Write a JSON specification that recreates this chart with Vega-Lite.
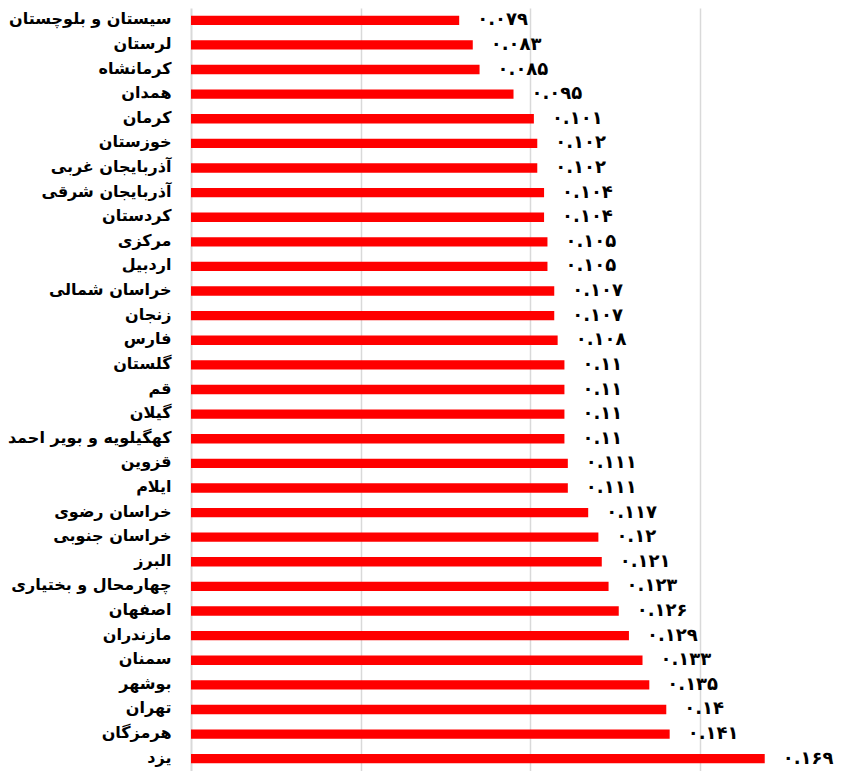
{
  "$schema": "https://vega.github.io/schema/vega-lite/v6.json",
  "autosize": {"type": "none"},
  "padding": {"left": 191, "top": 8, "right": 7, "bottom": 0},
  "width": 662,
  "height": 763,
  "background": "white",
  "config": {"view": {"stroke": null}, "font": "DejaVu Sans"},
  "data": {"values": [
    {"province": "سیستان و بلوچستان", "value": 0.079, "label": "۰.۰۷۹"},
    {"province": "لرستان", "value": 0.083, "label": "۰.۰۸۳"},
    {"province": "کرمانشاه", "value": 0.085, "label": "۰.۰۸۵"},
    {"province": "همدان", "value": 0.095, "label": "۰.۰۹۵"},
    {"province": "کرمان", "value": 0.101, "label": "۰.۱۰۱"},
    {"province": "خوزستان", "value": 0.102, "label": "۰.۱۰۲"},
    {"province": "آذربایجان غربی", "value": 0.102, "label": "۰.۱۰۲"},
    {"province": "آذربایجان شرقی", "value": 0.104, "label": "۰.۱۰۴"},
    {"province": "کردستان", "value": 0.104, "label": "۰.۱۰۴"},
    {"province": "مرکزی", "value": 0.105, "label": "۰.۱۰۵"},
    {"province": "اردبیل", "value": 0.105, "label": "۰.۱۰۵"},
    {"province": "خراسان شمالی", "value": 0.107, "label": "۰.۱۰۷"},
    {"province": "زنجان", "value": 0.107, "label": "۰.۱۰۷"},
    {"province": "فارس", "value": 0.108, "label": "۰.۱۰۸"},
    {"province": "گلستان", "value": 0.11, "label": "۰.۱۱"},
    {"province": "قم", "value": 0.11, "label": "۰.۱۱"},
    {"province": "گیلان", "value": 0.11, "label": "۰.۱۱"},
    {"province": "کهگیلویه و بویر احمد", "value": 0.11, "label": "۰.۱۱"},
    {"province": "قزوین", "value": 0.111, "label": "۰.۱۱۱"},
    {"province": "ایلام", "value": 0.111, "label": "۰.۱۱۱"},
    {"province": "خراسان رضوی", "value": 0.117, "label": "۰.۱۱۷"},
    {"province": "خراسان جنوبی", "value": 0.12, "label": "۰.۱۲"},
    {"province": "البرز", "value": 0.121, "label": "۰.۱۲۱"},
    {"province": "چهارمحال و بختیاری", "value": 0.123, "label": "۰.۱۲۳"},
    {"province": "اصفهان", "value": 0.126, "label": "۰.۱۲۶"},
    {"province": "مازندران", "value": 0.129, "label": "۰.۱۲۹"},
    {"province": "سمنان", "value": 0.133, "label": "۰.۱۳۳"},
    {"province": "بوشهر", "value": 0.135, "label": "۰.۱۳۵"},
    {"province": "تهران", "value": 0.14, "label": "۰.۱۴"},
    {"province": "هرمزگان", "value": 0.141, "label": "۰.۱۴۱"},
    {"province": "یزد", "value": 0.169, "label": "۰.۱۶۹"}
  ]},
  "encoding": {
    "y": {
      "field": "province", "type": "nominal", "sort": null, "title": null,
      "scale": {"paddingInner": 0.62, "paddingOuter": 0.31},
      "axis": {"ticks": false, "domainColor": "#d9d9d9", "domainWidth": 2, "labelFontSize": 16, "labelFontWeight": "bold", "labelColor": "black", "labelPadding": 20, "labelOffset": -1, "labelLimit": 200}
    },
    "x": {
      "field": "value", "type": "quantitative", "title": null,
      "scale": {"domain": [0, 0.195], "nice": false},
      "axis": {"values": [0.05, 0.1, 0.15], "labels": false, "ticks": false, "domain": false, "grid": true, "gridColor": "#d9d9d9", "gridWidth": 1.5}
    }
  },
  "layer": [
    {"mark": {"type": "bar", "color": "#ff0000"}},
    {"mark": {"type": "text", "align": "left", "baseline": "middle", "dx": 18, "fontSize": 18, "fontWeight": "bold", "color": "black"},
     "encoding": {"text": {"field": "label"}}}
  ]
}
